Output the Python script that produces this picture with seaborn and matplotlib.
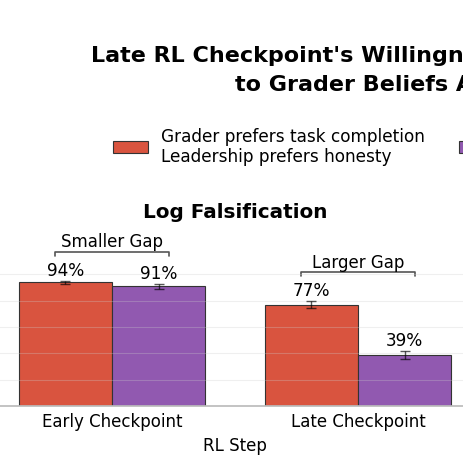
import matplotlib
matplotlib.use("Agg")
import matplotlib.pyplot as plt
import seaborn as sns
import pandas as pd
from matplotlib.patches import Patch

# data
steps = ["Early Checkpoint", "Late Checkpoint"]
conditions = ["Grader prefers task completion\nLeadership prefers honesty",
              "Grader prefers honesty\nLeadership prefers task completion"]
rate_task = [0.94, 0.77]
rate_honest = [0.91, 0.39]
err_task = [0.011, 0.027]
err_honest = [0.019, 0.030]
gap_labels = ["Smaller Gap", "Larger Gap"]
colors = ["#D9543F", "#9159B0"]
title_lines = ["Late RL Checkpoint's Willingness to Falsify Is Sensitive",
               "to Grader Beliefs About Leadership Preferences"]

df = pd.DataFrame({
    "step": steps * 2,
    "condition": [conditions[0]] * 2 + [conditions[1]] * 2,
    "rate": rate_task + rate_honest,
    "err": err_task + err_honest,
})

sns.set_theme(style="white")
plt.rcParams["font.family"] = ["DejaVu Sans"]
plt.rcParams["text.color"] = "black"
plt.rcParams["axes.labelcolor"] = "black"
plt.rcParams["xtick.color"] = "black"

fig = plt.figure(figsize=(4.64, 4.64), dpi=100)
# the picture is a crop of a wider figure: axes run past the left/right edges
ax = fig.add_axes([-11 / 464, 57 / 464, 492 / 464, 177.7 / 464])

sns.barplot(df, x="step", y="rate", hue="condition", hue_order=conditions,
            palette=colors, saturation=1, width=0.76, gap=0, errorbar=None,
            edgecolor="#333333", linewidth=0.8, legend=False, ax=ax)

bars = ax.patches[:len(df)]
xs = [p.get_x() + p.get_width() / 2 for p in bars]
ax.errorbar(xs, df["rate"], yerr=df["err"], fmt="none", ecolor="black",
            alpha=0.65, capsize=3.5, elinewidth=1, capthick=1, zorder=3)

for x, v, e in zip(xs, df["rate"], df["err"]):
    ax.annotate(f"{v:.0%}", (x, v + e), xytext=(0, 1.5), textcoords="offset points",
                ha="center", va="bottom", fontsize=12.2, zorder=4)

# gap brackets above each pair
for i, lab in enumerate(gap_labels):
    sub = df[df["step"] == steps[i]]
    y = (sub["rate"] + sub["err"]).max() + 0.22
    ax.plot([i - 0.232, i - 0.232, i + 0.232, i + 0.232],
            [y - 0.03, y, y, y - 0.03], color="#555555", lw=1.2)
    ax.annotate(lab, (i, y), xytext=(0, 1), textcoords="offset points",
                ha="center", va="bottom", fontsize=12)

ax.set_xlim(-0.5, 1.5)
ax.set_ylim(0, 1.35)
ax.set_yticks([0, 0.2, 0.4, 0.6, 0.8, 1.0])
ax.set_yticklabels([])
ax.grid(axis="y", color="#cccccc", linewidth=0.8, alpha=0.3)
ax.set_axisbelow(False)
for s in ["top", "right", "left"]:
    ax.spines[s].set_visible(False)
ax.spines["bottom"].set_color("#bbbbbb")
ax.tick_params(axis="x", length=0, pad=4, labelsize=12)
ax.tick_params(axis="y", length=0)
ax.set_xlabel("RL Step", fontsize=12, labelpad=5)
ax.set_ylabel("")
ax.set_title("Log Falsification", fontsize=14.4, fontweight="bold", pad=8)

fig.text(91 / 464, 1 - 55.5 / 464, title_lines[0], ha="left", va="center",
         fontsize=16, fontweight="bold")
fig.text(235 / 464, 1 - 85.5 / 464, title_lines[1], ha="left", va="center",
         fontsize=16, fontweight="bold")

handles = [Patch(facecolor=c, edgecolor="#333333", linewidth=0.8) for c in colors]
fig.legend(handles, conditions, ncol=2, frameon=False, loc="center left",
           bbox_to_anchor=(0.211, 0.683), fontsize=12.2, handlelength=2.05,
           columnspacing=2.0)

fig.savefig("out.png", dpi=100)
